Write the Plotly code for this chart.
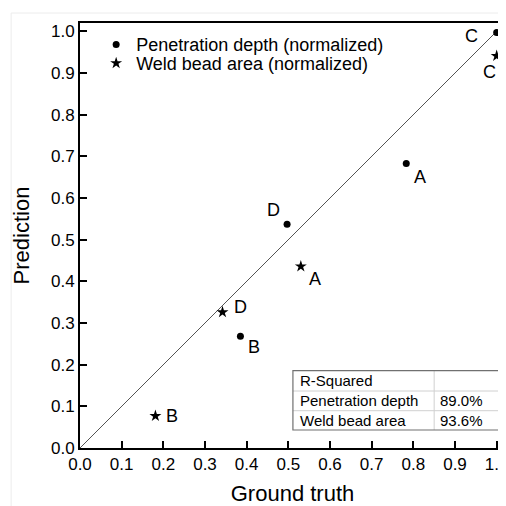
import plotly.graph_objects as go

# ---- data ----
pen_x = [0.783, 0.497, 0.385, 1.0]
pen_y = [0.683, 0.537, 0.268, 0.997]
pen_lbl = ["A", "D", "B", "C"]

weld_x = [0.530, 0.342, 0.181, 1.0]
weld_y = [0.436, 0.326, 0.077, 0.941]
weld_lbl = ["A", "D", "B", "C"]

diag = [0.0, 1.02]

tbl_col1 = ["R-Squared", "Penetration depth", "Weld bead area"]
tbl_col2 = ["", "89.0%", "93.6%"]

x_ticks = [0.0, 0.1, 0.2, 0.3, 0.4, 0.5, 0.6, 0.7, 0.8, 0.9, 1.0]
y_ticks = [0.0, 0.1, 0.2, 0.3, 0.4, 0.5, 0.6, 0.7, 0.8, 0.9, 1.0]

FONT = "Liberation Sans, Arial, sans-serif"

fig = go.Figure()

fig.add_trace(go.Scatter(x=diag, y=diag, mode="lines",
                         line=dict(color="#555555", width=1),
                         showlegend=False, hoverinfo="skip"))
fig.add_trace(go.Scatter(x=pen_x, y=pen_y, mode="markers",
                         name="Penetration depth (normalized)",
                         legend="legend",
                         marker=dict(symbol="circle", size=7, color="black")))
fig.add_trace(go.Scatter(x=weld_x, y=weld_y, mode="markers",
                         name="Weld bead area (normalized)",
                         legend="legend2",
                         marker=dict(symbol="star", size=9, color="black",
                                     line=dict(width=0))))

# point labels (pixel offsets)
pen_shift = {"A": (14, -14), "D": (-14, 14), "B": (14, -11), "C": (-25, -3)}
weld_shift = {"A": (14, -13), "D": (18, 5), "B": (17, 0), "C": (-7, -16)}
for xs, ys, ls, sh in [(pen_x, pen_y, pen_lbl, pen_shift),
                       (weld_x, weld_y, weld_lbl, weld_shift)]:
    for x, y, l in zip(xs, ys, ls):
        dx, dy = sh[l]
        fig.add_annotation(x=x, y=y, text=l, showarrow=False,
                           xshift=dx, yshift=dy,
                           font=dict(size=18, color="black", family=FONT))

# R-squared table
tx0, tx1, txm = 0.511, 1.008, 0.850
row_edges = [0.1855, 0.1368, 0.0895, 0.0432]
for i in range(1, 3):
    fig.add_shape(type="line", xref="x", yref="y", x0=tx0, x1=tx1,
                  y0=row_edges[i], y1=row_edges[i],
                  line=dict(color="#d0d0d0", width=1))
fig.add_shape(type="line", xref="x", yref="y", x0=txm, x1=txm,
              y0=row_edges[0], y1=row_edges[3],
              line=dict(color="#d0d0d0", width=1))
fig.add_shape(type="rect", xref="x", yref="y", x0=tx0, x1=tx1,
              y0=row_edges[3], y1=row_edges[0],
              line=dict(color="#707070", width=1.2))
for i, (a, b) in enumerate(zip(tbl_col1, tbl_col2)):
    yc = (row_edges[i] + row_edges[i + 1]) / 2
    fig.add_annotation(x=tx0 + 0.012, y=yc, text=a, showarrow=False,
                       xanchor="left", yanchor="middle",
                       font=dict(size=15, color="black", family=FONT))
    if b:
        fig.add_annotation(x=txm + 0.01, y=yc, text=b, showarrow=False,
                           xanchor="left", yanchor="middle",
                           font=dict(size=15, color="black", family=FONT))

# faint outer frame of the original image
fig.add_shape(type="line", xref="paper", yref="paper", x0=-0.162, x1=1.01,
              y0=1.0235, y1=1.0235, line=dict(color="#ececec", width=1))
fig.add_shape(type="line", xref="paper", yref="paper", x0=-0.162, x1=-0.162,
              y0=-0.15, y1=1.0235, line=dict(color="#ececec", width=1))

fig.update_xaxes(range=[0, 1.02], tickvals=x_ticks,
                 ticktext=[f"{v:.1f}" for v in x_ticks],
                 ticklabeloverflow="allow",
                 ticks="inside", ticklen=7, tickwidth=1.5, tickcolor="black",
                 showline=True, linecolor="black", linewidth=1.8, mirror=True,
                 showgrid=False, zeroline=False,
                 tickfont=dict(size=17, color="black", family=FONT),
                 title=dict(text="Ground truth", standoff=14,
                            font=dict(size=22, color="black", family=FONT)))
fig.update_yaxes(range=[0, 1.02], tickvals=y_ticks,
                 ticktext=[f"{v:.1f}" for v in y_ticks],
                 ticklabeloverflow="allow",
                 ticks="inside", ticklen=7, tickwidth=1.5, tickcolor="black",
                 showline=True, linecolor="black", linewidth=1.8,
                 showgrid=False, zeroline=False,
                 tickfont=dict(size=17, color="black", family=FONT),
                 title=dict(text="Prediction", standoff=15,
                            font=dict(size=22, color="black", family=FONT)))

leg_common = dict(xanchor="left", yanchor="middle", bgcolor="rgba(0,0,0,0)",
                  font=dict(size=18, color="black", family=FONT),
                  itemwidth=30)
fig.update_layout(
    width=498, height=498,
    margin=dict(l=72, r=1, t=15, b=58, autoexpand=False),
    paper_bgcolor="white", plot_bgcolor="white",
    font=dict(family=FONT, color="black"),
    legend=dict(x=0.038, y=0.949, **leg_common),
    legend2=dict(x=0.038, y=0.905, **leg_common),
)

fig.write_html("out.html")
